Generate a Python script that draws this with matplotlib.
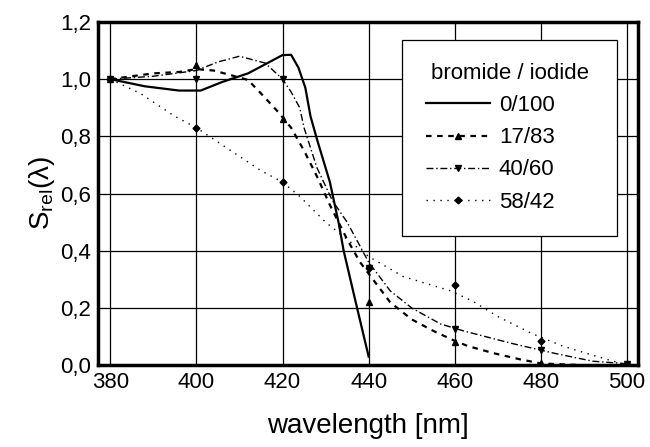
import matplotlib
matplotlib.use("Agg")
import matplotlib.pyplot as plt
from matplotlib.ticker import FuncFormatter

plt.rcParams['font.family'] = ['Liberation Sans', 'DejaVu Sans']
plt.rcParams['mathtext.fontset'] = 'custom'
plt.rcParams['mathtext.rm'] = 'Liberation Sans'
plt.rcParams['mathtext.it'] = 'Liberation Sans'

# curve points (wavelength in nm, relative sensitivity)
wl_0_100 = [380, 388, 396, 401, 406, 412, 416.5, 420, 422, 423.7, 425.3, 426.5, 428, 431, 433, 434.2, 437, 440]
s_0_100 = [1.0, 0.975, 0.96, 0.96, 0.99, 1.02, 1.056, 1.084, 1.085, 1.04, 0.97, 0.87, 0.79, 0.64, 0.5, 0.4, 0.22, 0.03]

wl_17_83 = [380, 390, 396, 400, 404, 408, 412, 415, 419, 422, 425, 428, 431, 435, 438, 441, 445, 450, 455, 460, 463, 469, 475, 480, 490, 500]
s_17_83 = [1.0, 1.02, 1.025, 1.035, 1.03, 1.014, 0.997, 0.95, 0.885, 0.83, 0.75, 0.66, 0.56, 0.44, 0.36, 0.3, 0.22, 0.16, 0.12, 0.085, 0.067, 0.042, 0.021, 0.006, 0.0, 0.0]

wl_40_60 = [380, 390, 400, 405, 410, 416, 420, 422, 424, 425, 428, 431.6, 435, 440, 445, 450, 456.7, 462, 473, 483, 492, 500]
s_40_60 = [1.0, 1.01, 1.03, 1.06, 1.08, 1.056, 1.0, 0.955, 0.9, 0.83, 0.69, 0.575, 0.5, 0.36, 0.26, 0.2, 0.144, 0.12, 0.077, 0.042, 0.014, 0.005]

wl_58_42 = [380, 387, 395, 400, 407, 415, 420, 424, 430, 440, 448, 459, 464, 470, 478, 485, 492, 500]
s_58_42 = [1.0, 0.95, 0.87, 0.83, 0.76, 0.68, 0.64, 0.59, 0.5, 0.38, 0.31, 0.26, 0.225, 0.17, 0.11, 0.067, 0.035, 0.0]

# measured points (markers)
pts_wl = [380, 400, 420, 440, 460, 480, 500]
pts_17_83 = [1.0, 1.05, 0.86, 0.22, 0.08, 0.006, 0.0]
pts_40_60 = [1.0, 1.0, 1.0, 0.34, 0.125, 0.053, 0.005]
pts_58_42 = [1.0, 0.83, 0.64, 0.34, 0.28, 0.085, 0.005]

labels = ['0/100', '17/83', '40/60', '58/42']
xticks = [380, 400, 420, 440, 460, 480, 500]
yticks = [0.0, 0.2, 0.4, 0.6, 0.8, 1.0, 1.2]

fig = plt.figure(figsize=(6.5, 4.47), dpi=100)
ax = fig.add_axes([0.151, 0.183, 0.831, 0.768])

ax.grid(True, color='black', linewidth=0.9)
ax.set_axisbelow(True)

ax.plot(wl_0_100, s_0_100, color='black', linewidth=1.6, linestyle='-')
ax.plot(wl_17_83, s_17_83, color='black', linewidth=1.6, linestyle=(0, (2.5, 2.5)))
ax.plot(wl_40_60, s_40_60, color='black', linewidth=1.0, linestyle=(0, (5, 2, 1, 2)))
ax.plot(wl_58_42, s_58_42, color='black', linewidth=1.0, linestyle=(0, (1, 4)))

ax.plot(pts_wl, pts_17_83, linestyle='none', marker='^', color='black', markersize=4)
ax.plot(pts_wl, pts_40_60, linestyle='none', marker='v', color='black', markersize=4)
ax.plot(pts_wl, pts_58_42, linestyle='none', marker='D', color='black', markersize=3.5)

# legend handles
h0, = ax.plot([], [], color='black', linewidth=1.6, linestyle='-')
h1, = ax.plot([], [], color='black', linewidth=1.6, linestyle=(0, (2.5, 2.5)), marker='^', markersize=4)
h2, = ax.plot([], [], color='black', linewidth=1.0, linestyle=(0, (5, 2, 1, 2)), marker='v', markersize=4)
h3, = ax.plot([], [], color='black', linewidth=1.0, linestyle=(0, (1, 4)), marker='D', markersize=3.5)
leg = ax.legend([h0, h1, h2, h3], labels,
                title='bromide / iodide', loc='upper left',
                bbox_to_anchor=(0.563, 0.367, 0.398, 0.581), mode='expand',
                fontsize=16, title_fontsize=16, frameon=True, fancybox=False,
                framealpha=1, edgecolor='black', handlelength=2.9,
                handletextpad=0.4, labelspacing=0.5, borderpad=1.05,
                borderaxespad=0)
leg.get_frame().set_linewidth(0.9)

ax.set_xlim(377.2, 502.6)
ax.set_ylim(0, 1.2)
ax.set_xticks(xticks)
ax.set_yticks(yticks)
ax.yaxis.set_major_formatter(FuncFormatter(lambda v, p: f"{v:.1f}".replace('.', ',')))
ax.tick_params(length=0, labelsize=16)
ax.tick_params(axis='x', pad=5)
ax.tick_params(axis='y', pad=5)
for s in ax.spines.values():
    s.set_linewidth(2.5)

ax.set_xlabel('wavelength [nm]', fontsize=20, labelpad=14)
ax.set_ylabel(r'S$_{\rm rel}$($\lambda$)', fontsize=20, labelpad=2)

fig.savefig('out.png', dpi=100)
